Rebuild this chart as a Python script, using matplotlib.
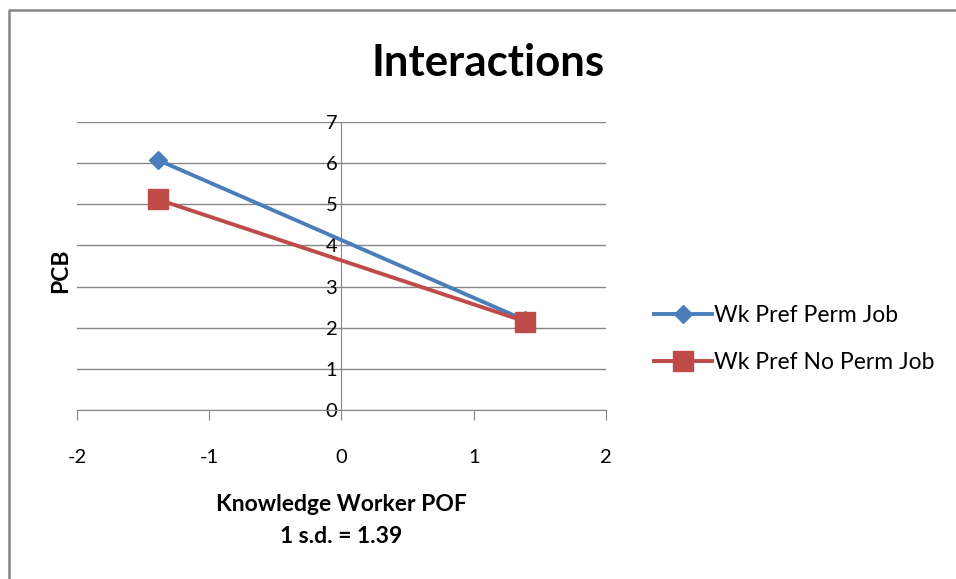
import matplotlib
matplotlib.use("Agg")
import matplotlib.pyplot as plt
from matplotlib.lines import Line2D

# data
pof_sd = [-1.39, 1.39]
perm_job = [6.08, 2.18]
no_perm_job = [5.12, 2.15]
series_names = ["Wk Pref Perm Job", "Wk Pref No Perm Job"]
x_ticks = [-2, -1, 0, 1, 2]
y_ticks = [0, 1, 2, 3, 4, 5, 6, 7]

plt.rcParams['font.family'] = ['Lato', 'DejaVu Sans']
plt.rcParams['axes.unicode_minus'] = False
grey = '#868686'
blue = '#4A7EBB'
red = '#BE4B48'

fig = plt.figure(figsize=(9.56, 5.79), dpi=100)
ax = fig.add_axes([0.0805, 0.2919, 0.5534, 0.4974])

# chart frame (only left and top edges are visible in the crop)
fig.add_artist(Line2D([0.0095, 0.0095, 1.0], [0.0, 0.9835, 0.9835],
                      transform=fig.transFigure, color=grey, lw=1.8))

ax.plot(pof_sd, perm_job, color=blue, lw=2.8, marker='D', markersize=9,
        label=series_names[0], zorder=3)
ax.plot(pof_sd, no_perm_job, color=red, lw=2.8, marker='s', markersize=14,
        label=series_names[1], zorder=3)

ax.set_xlim(-2, 2)
ax.set_ylim(0, 7)
ax.set_xticks(x_ticks)
ax.set_yticks(y_ticks)
ax.yaxis.grid(True, color=grey, lw=1)
ax.set_axisbelow(True)

for s in ['top', 'right']:
    ax.spines[s].set_visible(False)
ax.spines['left'].set_position(('data', 0))
ax.spines['bottom'].set_position(('data', 0))
ax.spines['left'].set_color(grey)
ax.spines['bottom'].set_color(grey)

ax.tick_params(axis='x', direction='out', length=7, color=grey, labelsize=14.5, pad=21)
ax.tick_params(axis='y', length=0, labelsize=14.5, pad=3)

fig.text(0.511, 0.892, "Interactions", fontsize=31.5, fontweight='bold',
         ha='center', va='center')
fig.text(0.063, 0.532, "PCB", rotation=90, fontsize=16.5, fontweight='bold',
         ha='center', va='center')
fig.text(0.357, 0.101, "Knowledge Worker POF\n1 s.d. = 1.39", fontsize=16.5,
         fontweight='bold', ha='center', va='center', linespacing=1.65)

fig.legend(loc='center left', bbox_to_anchor=(0.663, 0.414), frameon=False,
           fontsize=16.5, labelspacing=1.15, handlelength=2.5, handletextpad=0.1)

fig.savefig("out.png", dpi=100)
